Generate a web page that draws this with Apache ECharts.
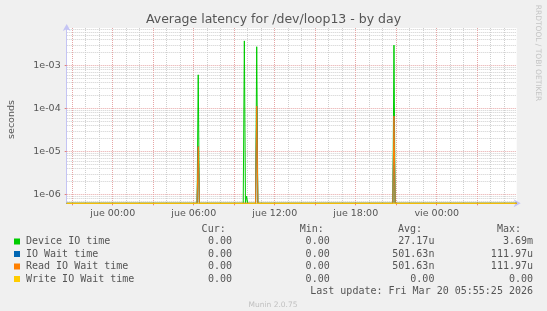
<!DOCTYPE html>
<html><head><meta charset="utf-8">
<script src="https://cdn.jsdelivr.net/npm/echarts@6.0.0/dist/echarts.min.js"></script>
<style>html,body{margin:0;padding:0;background:#f0f0f0}#c{width:547px;height:311px}</style>
</head><body><div id="c"></div>
<script>
// ---- data ----
const pointTimes = ['2026-03-18 20:35:25','2026-03-19 06:15','2026-03-19 06:20','2026-03-19 06:25',
  '2026-03-19 09:40','2026-03-19 09:45','2026-03-19 09:50','2026-03-19 09:55','2026-03-19 10:00',
  '2026-03-19 10:35','2026-03-19 10:40','2026-03-19 10:45',
  '2026-03-19 20:45','2026-03-19 20:50','2026-03-19 20:55','2026-03-20 05:55:25'];
const deviceIO    = [0, 0, 6.0e-4, 0, 0, 3.69e-3, 0, 9e-7, 0, 0, 2.7e-3, 0, 0, 2.94e-3, 0, 0];
const ioWait      = [0, 0, 1.29e-5, 0, 0, 0, 0, 0, 0, 0, 1.12e-4, 0, 0, 6.6e-5, 0, 0];
const readIOWait  = [0, 0, 1.29e-5, 0, 0, 0, 0, 0, 0, 0, 1.12e-4, 0, 0, 6.6e-5, 0, 0];
const writeIOWait = [0, 0, 0, 0, 0, 0, 0, 0, 0, 0, 0, 0, 0, 0, 0, 0];

const seriesNames = ['Device IO time','IO Wait time','Read IO Wait time','Write IO Wait time'];
const seriesColors = ['#00cc00','#0066b3','#ff8000','#ffcc00'];
const curVals = ['0.00','0.00','0.00','0.00'];
const minVals = ['0.00','0.00','0.00','0.00'];
const avgVals = ['27.17u','501.63n','501.63n','0.00'];
const maxVals = ['3.69m','111.97u','111.97u','0.00'];

const xStart = '2026-03-18 20:35:25';
const xEnd = '2026-03-20 05:55:25';
const xLabelTimes = ['2026-03-19 00:00','2026-03-19 06:00','2026-03-19 12:00','2026-03-19 18:00','2026-03-20 00:00'];
const xMajorTimes = ['2026-03-18 21:00','2026-03-19 00:00','2026-03-19 03:00','2026-03-19 06:00','2026-03-19 09:00',
  '2026-03-19 12:00','2026-03-19 15:00','2026-03-19 18:00','2026-03-19 21:00','2026-03-20 00:00','2026-03-20 03:00'];
const yLabels = [1e-6, 1e-5, 1e-4, 1e-3];
const Y_MIN = 6.18e-7, Y_MAX = 7.36e-3;

// ---- helpers ----
function ms(s){
  const m = s.match(/(\d+)-(\d+)-(\d+) (\d+):(\d+)(?::(\d+))?/);
  return Date.UTC(+m[1], +m[2]-1, +m[3], +m[4], +m[5], +(m[6]||0));
}
const dayNames = ['dom','lun','mar','mié','jue','vie','sáb'];
function fmtX(v){
  const d = new Date(v);
  return dayNames[d.getUTCDay()] + ' ' + String(d.getUTCHours()).padStart(2,'0') + ':' + String(d.getUTCMinutes()).padStart(2,'0');
}
function fmtY(v){
  const e = Math.round(Math.log10(v));
  return '1e' + (e < 0 ? '-' : '+') + String(Math.abs(e)).padStart(2,'0');
}
const xMin = ms(xStart), xMax = ms(xEnd);
const xMinor = [];
for (let t = Math.ceil(xMin/3600000)*3600000; t <= xMax; t += 3600000) xMinor.push(t);
const yMinor = [];
for (let e = -7; e <= -2; e++) for (let k = 2; k <= 9; k++) { const v = k*Math.pow(10,e); if (v > Y_MIN && v < Y_MAX) yMinor.push(v); }

function mk(vals){ return pointTimes.map((t,i)=>[ms(t), vals[i] > 0 ? vals[i] : Y_MIN]); }
const allVals = [deviceIO, ioWait, readIOWait, writeIOWait];

const GRID_L = 66.7, GRID_R = 516.7, GRID_T = 28, GRID_B = 203.3;
const MONO = '10px "DejaVu Sans Mono"';
const TXT = '#555555';

const graphics = [];
function txt(x, y, text, font, fill, align, rot){
  graphics.push({type:'text', x:x, y:y, rotation: rot||0, silent:true,
    style:{text:text, font:font, fill:fill, textAlign:align, align:align, textVerticalAlign:'middle', verticalAlign:'middle'}});
}
txt(273.5, 20, 'Average latency for /dev/loop13 - by day', '12.5px "DejaVu Sans"', TXT, 'center');
txt(11.2, 119.5, 'seconds', '9.5px "DejaVu Sans"', TXT, 'center', Math.PI/2);
txt(538, 53, 'RRDTOOL / TOBI OETIKER', '7.5px "DejaVu Sans"', '#c4c4c4', 'center', -Math.PI/2);
const colRight = [232, 329.7, 434.4, 533];
const headRight = [225.7, 323.8, 422, 521];
['Cur:','Min:','Avg:','Max:'].forEach((h,i)=>txt(headRight[i], 229, h, MONO, TXT, 'right'));
const rowY = [241.5, 254, 266.5, 279];
seriesNames.forEach((n,i)=>{
  graphics.push({type:'rect', silent:true, shape:{x:14, y:rowY[i]-3, width:6, height:6}, style:{fill:seriesColors[i]}});
  txt(26, rowY[i], n, MONO, TXT, 'left');
  [curVals, minVals, avgVals, maxVals].forEach((arr,j)=>txt(colRight[j], rowY[i], arr[i], MONO, TXT, 'right'));
});
txt(533, 291.8, 'Last update: Fri Mar 20 05:55:25 2026', MONO, TXT, 'right');
txt(273, 304.7, 'Munin 2.0.75', '7.5px "DejaVu Sans"', '#c0c0c0', 'center');

const chart = echarts.init(document.getElementById('c'), null, {renderer:'canvas'});
chart.setOption({
  animation:false,
  backgroundColor:'#f0f0f0',
  grid:{left:GRID_L, right:547-GRID_R, top:GRID_T, bottom:311-GRID_B, show:true, backgroundColor:'#ffffff', borderWidth:0},
  xAxis:[
    {type:'value', min:xMin, max:xMax, position:'bottom',
     axisLine:{show:true, lineStyle:{color:'#c4c4f4', width:1}, symbol:['none','arrow'], symbolSize:[6,7], symbolOffset:[0,4]},
     axisTick:{show:true, length:2, customValues:xMajorTimes.map(ms), lineStyle:{color:'#e08080'}},
     axisLabel:{show:true, customValues:xLabelTimes.map(ms), formatter:fmtX, color:TXT, fontSize:9.5, fontFamily:'DejaVu Sans', margin:5},
     splitLine:{show:true, lineStyle:{color:'#e6a6a6', type:[1,1], width:1}}, z:1},
    {type:'value', min:xMin, max:xMax, position:'bottom',
     axisLine:{show:false}, axisTick:{show:false, customValues:xMinor}, axisLabel:{show:false},
     splitLine:{show:true, lineStyle:{color:'#cfcfcf', type:[1,1], width:1}}, z:0}
  ],
  yAxis:[
    {type:'log', logBase:10, min:Y_MIN, max:Y_MAX,
     axisLine:{show:true, lineStyle:{color:'#c4c4f4', width:1}, symbol:['none','arrow'], symbolSize:[6,7], symbolOffset:[0,4]},
     axisTick:{show:true, length:2, customValues:yLabels, lineStyle:{color:'#e08080'}},
     axisLabel:{show:true, customValues:yLabels, formatter:fmtY, color:TXT, fontSize:9.5, fontFamily:'DejaVu Sans', margin:6},
     splitLine:{show:true, lineStyle:{color:'#e6a6a6', type:[1,1], width:1}}, z:1},
    {type:'log', logBase:10, min:Y_MIN, max:Y_MAX,
     axisLine:{show:false}, axisTick:{show:false, customValues:yMinor}, axisLabel:{show:false},
     splitLine:{show:true, lineStyle:{color:'#cfcfcf', type:[1,1], width:1}}, z:0}
  ],
  series: seriesNames.map((n,i)=>({
    name:n, type:'line', xAxisIndex:0, yAxisIndex:0, data:mk(allVals[i]), showSymbol:false, symbol:'none',
    clip:false, lineStyle:{color:seriesColors[i], width:1}, itemStyle:{color:seriesColors[i]}, z:2+i
  })),
  graphic: graphics
});
</script></body></html>
